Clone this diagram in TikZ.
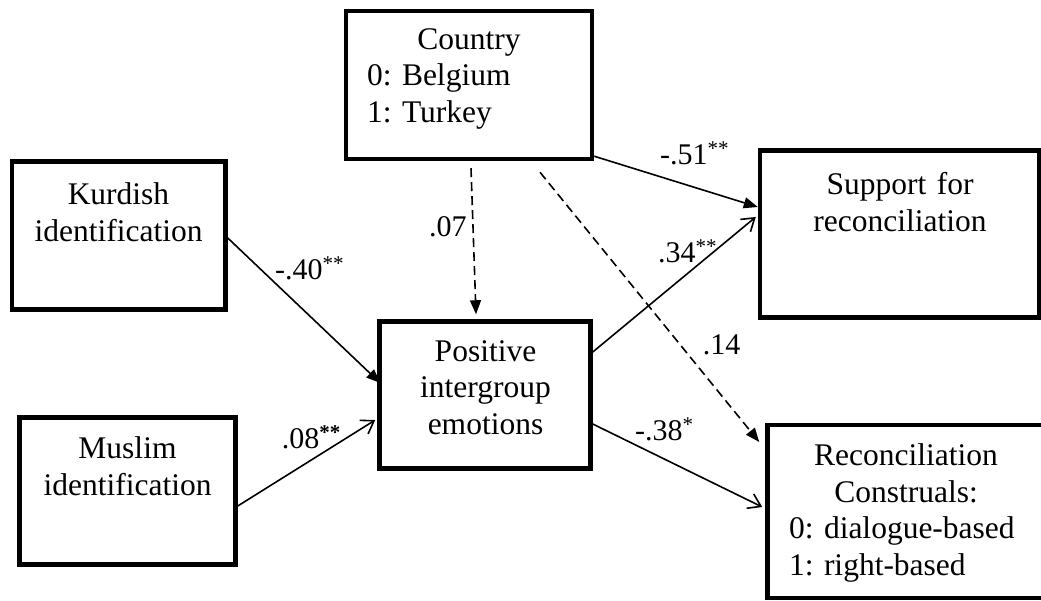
\documentclass[tikz,border=0pt]{standalone}
\usepackage{fontspec}
\setmainfont{Liberation Serif}
\usetikzlibrary{arrows.meta}
\frenchspacing
\begin{document}
\begin{tikzpicture}[x=1pt,y=-1pt,
  box/.style={draw=black,line width=4.5pt,rectangle,inner sep=0pt},
  boxtext/.style={font=\fontsize{31.5}{36.7}\selectfont\frenchspacing,inner sep=0pt,anchor=north,align=center},
  lbl/.style={font=\fontsize{30}{36}\selectfont,inner sep=0pt,anchor=base west},
  conn/.style={line width=1.6pt,line cap=butt},
  dashline/.style={dash pattern=on 9pt off 5pt},
  solidhead/.style={-{Triangle[length=14pt,width=11pt]}},
  openhead/.style={-{Straight Barb[length=12pt,width=16pt]}}
]
\useasboundingbox (0,0) rectangle (1041,601);
\clip (0,0) rectangle (1041,601);

% boxes
\node[box,minimum width=246pt,minimum height=148pt] (country) at (469,85) {};
\node[box,minimum width=213.5pt,minimum height=148pt] (kurd) at (118.75,235.5) {};
\node[box,minimum width=211pt,minimum height=147pt] (pos) at (485,395) {};
\node[box,minimum width=216pt,minimum height=147pt] (musl) at (127.5,491) {};
\node[box,minimum width=279pt,minimum height=167pt] (supp) at (899.5,234) {};
\node[box,minimum width=276.5pt,minimum height=173pt] (recon) at (905.75,511.5) {};

% box texts
\node[boxtext,align=left,text width=204pt] (countryT) at (469,28)
  {{\centering Country\par}0: Belgium\\1: Turkey};
\node[boxtext,text width=200pt] (kurdT) at (118.5,182.5) {Kurdish\\identification};
\node[boxtext,text width=200pt] (posT) at (485.5,340.2) {Positive\\intergroup\\emotions};
\node[boxtext,text width=200pt] (muslT) at (127.5,436.8) {Muslim\\identification};
\node[boxtext,text width=250pt] (suppT) at (900,172.5) {Support for\\reconciliation};
\node[boxtext,align=left,text width=234pt] (reconT) at (906,443.5)
  {{\centering Reconciliation\\Construals:\par}0: dialogue-based\\1: right-based};

% connectors
\draw[conn,solidhead] ([yshift=5pt]country.south east) -- ([yshift=27pt]supp.west);
\draw[conn,openhead] ([yshift=43pt]pos.east) -- ([xshift=-2pt,yshift=17pt]supp.west);
\draw[conn,dashline,solidhead] ([xshift=2pt,yshift=-7pt]country.south) -- ([xshift=-9pt,yshift=5pt]pos.north);
\draw[conn,dashline,solidhead] ([xshift=71pt,yshift=-11pt]country.south) -- ([xshift=-6pt,yshift=69.5pt]recon.west);
\draw[conn,solidhead] ([yshift=-2.5pt]kurd.east) -- ([xshift=3pt,yshift=12pt]pos.west);
\draw[conn,openhead] ([yshift=-15pt]musl.east) -- ([xshift=-2pt,yshift=-25pt]pos.west);
\draw[conn,openhead] ([yshift=-29pt]pos.east) -- ([xshift=-3pt,yshift=4.5pt]recon.west);

% labels
\node[lbl] (l51) at (660,165) {-.51\textsuperscript{**}};
\node[lbl] (l34) at (658,262.7) {.34\textsuperscript{**}};
\node[lbl] (l07) at (429,237) {.07};
\node[lbl] (l14) at (702.7,355) {.14};
\node[lbl] (l40) at (275,280) {-.40\textsuperscript{**}};
\node[lbl] (l08) at (281.7,448.3) {.08\textsuperscript{\textbf{**}}};
\node[lbl] (l38) at (635,440.7) {-.38\textsuperscript{*}};
\end{tikzpicture}
\end{document}
